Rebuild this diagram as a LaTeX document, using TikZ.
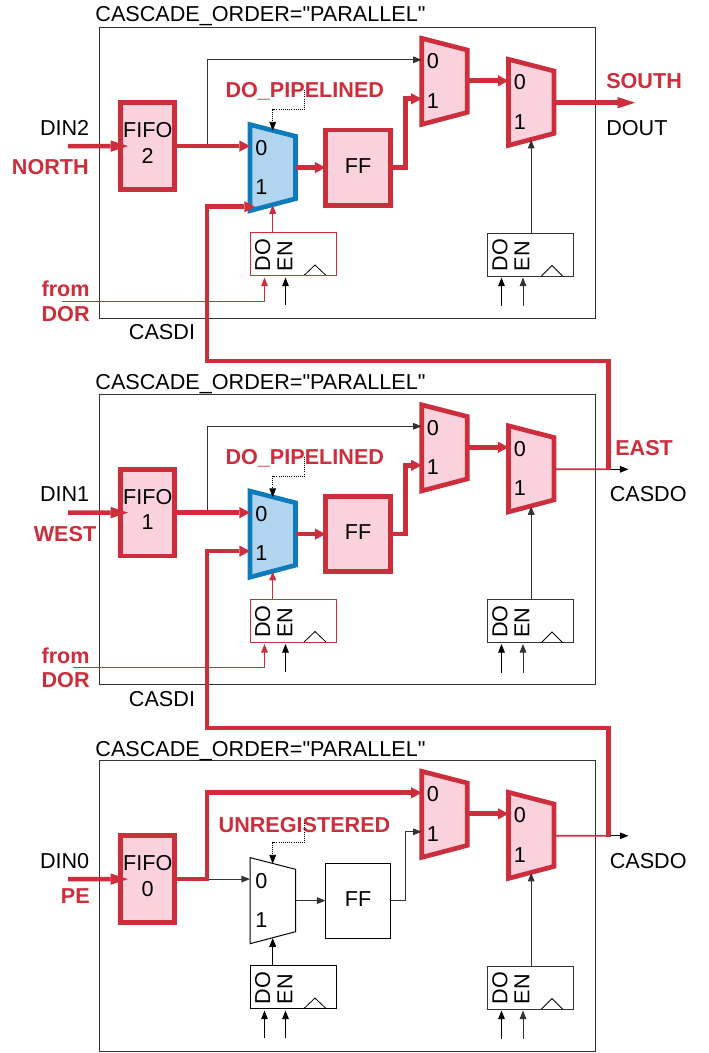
\documentclass[tikz,border=0pt]{standalone}
\usepackage{fontspec}
\setmainfont{Liberation Sans}
\newfontfamily\rawf{Liberation Sans}
\usetikzlibrary{arrows.meta}
\definecolor{rd}{HTML}{CC2E3C}
\definecolor{pk}{HTML}{F9D2DE}
\definecolor{bl}{HTML}{0E7BBD}
\definecolor{lb}{HTML}{B2D5EF}
\definecolor{gr}{HTML}{333333}
\tikzset{
 x=0.75pt,y=-0.75pt,
 thinw/.style={line width=0.75pt,draw=gr},
 thinb/.style={line width=0.75pt,draw=black},
 thinr/.style={line width=0.75pt,draw=rd},
 thk/.style={line width=3.5pt,draw=rd,line cap=butt,line join=miter},
 thka/.style={thk,-{Triangle[length=8pt,width=8.5pt,line width=0pt]}},
 thkl/.style={thk,-{Triangle[length=13pt,width=8.5pt,line width=0pt]}},
 ta/.style={-{Triangle[length=6.5pt,width=5pt]}},
 hot/.style={thk,fill=pk},
 hotblue/.style={line width=3.5pt,draw=bl,fill=lb,line join=miter},
 plain/.style={thinb,fill=white},
 lab/.style={font=\fontsize{16.2}{18}\selectfont,text=black,inner sep=0pt},
 rlab/.style={font=\fontsize{16.2}{18}\selectfont\bfseries,text=rd,inner sep=0pt},
 vlab/.style={lab,rotate=90,anchor=west},
 fifobox/.style={hot,minimum width=40.5pt,minimum height=65pt,inner sep=0pt,outer sep=0pt,anchor=north west},
 ffbox/.style={minimum width=48.6pt,minimum height=56.4pt,inner sep=0pt,outer sep=0pt,anchor=north west},
 regbox/.style={minimum width=64.7pt,minimum height=32.25pt,inner sep=0pt,outer sep=0pt,anchor=north west},
 dots/.style={line width=0.6pt,densely dotted,draw=black,ta},
 cascade/.style={line width=1.2pt,draw=rd},
 clock/.style={line width=0.6pt,draw=black},
}
% name, style, x left, top y, offset of input 1, offset of output
\newcommand{\muxshape}[6]{%
 \path[draw,#2] (#3,#4) -- ++(45.5,11.7) -- ++(0,62.4) -- ++(-45.5,12) -- cycle;
 \node[lab] (#1z) at (#3+11.3,#4+23) {0};
 \node[lab] (#1o) at (#3+11.3,#4+62.4) {1};
 \coordinate (#1i0) at (#3,#4+21.5);
 \coordinate (#1i1) at (#3,#4+#5);
 \coordinate (#1s) at (#3+22.7,#4+80.5);
 \coordinate (#1t) at (#3+22.7,#4+6);
 \coordinate (#1out) at (#3+45.5,#4+#6);
}
% y offset, din label, number, title baseline, body
\newcommand{\panel}[5]{%
\begin{scope}[shift={(0,#1)}]
 \node[draw=gr,line width=0.75pt,minimum width=372pt,minimum height=218pt,anchor=north west,inner sep=0pt,outer sep=0pt] (box#3) at (99,27.5) {};
 \node[lab,anchor=base west] (title#3) at (95.2,#4) {CASCADE\_ORDER={\rawf"}PARALLEL{\rawf"}};
 \node[fifobox] (fifo#3) at (120.6,102.8) {};
 \node[lab] (fifot#3) at (147.7,130.5) {FIFO};
 \node[lab] (fifon#3) at (147.7,156) {#3};
 \node[lab,anchor=east] (din#3) at (89.5,127.8) {#2};
 \coordinate (in#3) at (68,146.1);
 \coordinate (tap#3) at (207,146.1);
 \draw[thkl] (in#3) -- (fifo#3.west -| 128,146.1);
 \node[regbox,draw=gr,line width=0.75pt] (rb#3) at (487.5,233) {};
 \draw[clock] (541.5,276) -- (552,265.5) -- (562.5,276);
 \node[vlab] (rbdo#3) at (500,271.5) {DO};
 \node[vlab] (rben#3) at (522,271.5) {EN};
 \coordinate (rbdoin#3) at (501.5,277.5);
 \coordinate (rbenin#3) at (523,277.5);
 \coordinate (rbdot#3) at (501.5,306);
 \coordinate (rbent#3) at (523,306);
 \draw[thinb,ta] (rbdot#3) -- (rbdoin#3);
 \draw[thinw,ta] (rbent#3) -- (rbenin#3);
 \coordinate (raenin#3) at (285.5,277.5);
 \coordinate (raent#3) at (285.5,305);
 \draw[thinb,ta] (raent#3) -- (raenin#3);
 \draw[clock] (304,275.5) -- (315,265) -- (326,275.5);
 \node[vlab] (rado#3) at (262.8,271.5) {DO};
 \node[vlab] (raen#3) at (285,271.5) {EN};
 \muxshape{mb#3}{hot}{421.7}{38.3}{60.5}{42.5}
 \muxshape{mc#3}{hot}{508.5}{59.3}{60}{43.4}
 \draw[thinw,ta] (rb#3.north -| mc#3s) -- (mc#3s);
 \coordinate (dotst#3) at (304.5,90);
 \coordinate (dotsb#3) at (304.5,109.7);
 #5
 \draw[thka] (mb#3out) -- (mc#3i0);
\end{scope}}
\begin{document}
\begin{tikzpicture}
\useasboundingbox (0,0) rectangle (709,1053);
\fill[white] (0,0) rectangle (709,1053);
% ---------- top
\panel{0}{DIN2}{2}{21.6}{%
 \node[rlab,anchor=east] (dir2) at (89,167) {NORTH};
 \draw[thinw,ta] (tap2) |- (mb2i0);
 \muxshape{ma2}{hotblue}{250}{124.6}{82}{43}
 \draw[thka] (fifo2.east |- ma2i0) -- (ma2i0);
 \node[ffbox,hot] (ff2) at (325.5,130) {};
 \node[lab] (fft2) at (358,166) {FF};
 \node[rlab] (mode2) at (304.8,91) {DO\_PIPELINED};
 \draw[dots] (dotst2) -- (dotsb2) -| (ma2t);
 \draw[thka] (ma2out) -- (ff2.west);
 \draw[thka] (ff2.east) -- ++(15.5,0) |- (mb2i1);
 \coordinate (dout2) at (635,102.7);
 \draw[thkl] (mc2out) -- (dout2);
 \node[rlab,anchor=west] (south2) at (606,81) {SOUTH};
 \node[lab,anchor=west] (dout2t) at (606,127.8) {DOUT};
 \node[regbox,draw=rd,line width=0.75pt] (ra2) at (250,232.5) {};
 \draw[thinr,ta] (ra2.north -| ma2s) -- (ma2s);
 \coordinate (from2) at (62,301);
 \coordinate (radoin2) at (264.5,277.5);
 \draw[thinr,ta] (from2) -| (radoin2);
 \node[rlab] (fromt2) at (65.6,289) {from};
 \node[rlab] (dor2) at (65.6,314) {DOR};
 \node[lab] (casdi2) at (162,332.5) {CASDI};
}
% ---------- middle
\panel{366.5}{DIN1}{1}{23}{%
 \node[rlab,anchor=east] (dir1) at (96.5,167.5) {WEST};
 \draw[thinw,ta] (tap1) |- (mb1i0);
 \muxshape{ma1}{hotblue}{250}{124.6}{60}{43}
 \draw[thka] (fifo1.east |- ma1i0) -- (ma1i0);
 \node[ffbox,hot] (ff1) at (325.5,130) {};
 \node[lab] (fft1) at (358,166) {FF};
 \node[rlab] (mode1) at (304.8,91.5) {DO\_PIPELINED};
 \draw[dots] (dotst1) -- (dotsb1) -| (ma1t);
 \draw[thka] (ma1out) -- (ff1.west);
 \draw[thka] (ff1.east) -- ++(15.5,0) |- (mb1i1);
 \coordinate (cas1) at (608.5,102.8);
 \coordinate (casend1) at (628.5,102.8);
 \draw[thinb,ta] (cas1) -- (casend1);
 \node[rlab,anchor=west] (east1) at (615,81.5) {EAST};
 \node[lab,anchor=west] (casdo1) at (609.5,127.5) {CASDO};
 \node[regbox,draw=rd,line width=0.75pt] (ra1) at (250,232.5) {};
 \draw[thinr,ta] (ra1.north -| ma1s) -- (ma1s);
 \coordinate (from1) at (72.5,301);
 \coordinate (radoin1) at (264.5,277.5);
 \draw[thinr,ta] (from1) -| (radoin1);
 \node[rlab] (fromt1) at (65.6,289) {from};
 \node[rlab] (dor1) at (65.6,314) {DOR};
 \node[lab] (casdi1) at (162,332.5) {CASDI};
}
% ---------- bottom
\panel{733}{DIN0}{0}{23}{%
 \node[rlab,anchor=east] (dir0) at (90,163) {PE};
 \muxshape{ma0}{plain}{250}{124.6}{82}{43}
 \draw[thinw,ta] (tap0) -- (ma0i0);
 \draw[thka] (fifo0.east |- tap0) -- (tap0) |- (mb0i0);
 \node[ffbox,thinb,draw] (ff0) at (325.5,130) {};
 \node[lab] (fft0) at (358,166) {FF};
 \node[rlab] (mode0) at (304.5,92) {UNREGISTERED};
 \draw[dots] (dotst0) -- (dotsb0) -| (ma0t);
 \draw[thinw,ta] (ma0out) -- (ff0.west);
 \draw[thinw,ta] (ff0.east) -- ++(15.5,0) |- (mb0i1);
 \coordinate (cas0) at (608.5,102.8);
 \coordinate (casend0) at (628.5,102.8);
 \draw[thinb,ta] (cas0) -- (casend0);
 \node[lab,anchor=west] (casdo0) at (609.5,128) {CASDO};
 \node[regbox,draw=black,line width=0.75pt] (ra0) at (250,232.5) {};
 \draw[thinb,ta] (ra0.north -| ma0s) -- (ma0s);
 \coordinate (radoin0) at (264.5,277.5);
 \coordinate (radot0) at (264.5,305);
 \draw[thinb,ta] (radot0) -- (radoin0);
}
% ---------- cascade routes
\coordinate (bend2) at (207,361);
\coordinate (bend1) at (207,728);
\coordinate (tip2) at (255,206.8);
\draw[cascade] (mc1out) -- (cas1);
\draw[thka] ([yshift=-0.6pt]cas1) |- (bend2) |- (tip2);
\draw[cascade] (mc0out) -- (cas0);
\draw[thka] ([yshift=-0.6pt]cas0) |- (bend1) |- (ma1i1);
\end{tikzpicture}
\end{document}
